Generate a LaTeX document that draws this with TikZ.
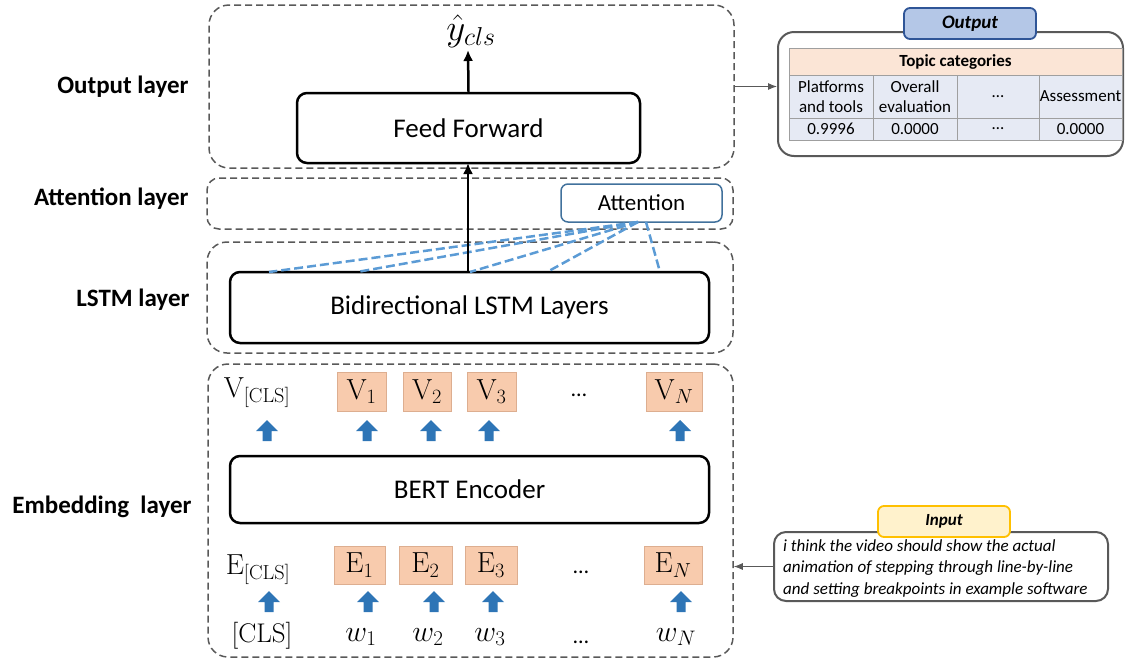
\RequirePackage{fix-cm}
\documentclass[tikz,border=0pt]{standalone}
\usepackage[no-math]{fontspec}
\setmainfont{Carlito}
\usetikzlibrary{arrows.meta}

\definecolor{peach}{HTML}{F8CBAD}
\definecolor{peachline}{HTML}{DDAE90}
\definecolor{blockblue}{HTML}{2E75B6}
\definecolor{dashblue}{HTML}{5B9BD5}
\definecolor{attline}{HTML}{41719C}
\definecolor{layergray}{HTML}{595959}
\definecolor{hdr}{HTML}{FBE5D6}
\definecolor{cellbg}{HTML}{E6EAF4}
\definecolor{tabblue}{HTML}{B4C7E7}
\definecolor{tabblueline}{HTML}{2F5597}
\definecolor{tabyellow}{HTML}{FFF2CC}
\definecolor{tabyellowline}{HTML}{FFC000}

\tikzset{
  sz/.style 2 args={minimum width=#1pt, minimum height=#2pt, inner sep=0pt},
  layer/.style={draw=layergray, line width=1.5pt, dash pattern=on 7pt off 4pt, rounded corners=20pt},
  layerlabel/.style={anchor=east, font=\fontsize{25}{30}\selectfont\bfseries},
  block/.style={draw=black, line width=2.5pt, rounded corners=10pt, fill=white, font=\fontsize{27}{32}\selectfont},
  attbox/.style={draw=attline, line width=1.5pt, rounded corners=7pt, fill=white, font=\fontsize{23}{28}\selectfont},
  vec/.style={fill=peach, draw=peachline, line width=0.6pt, font=\fontsize{29}{33}\selectfont},
  plain/.style={inner sep=0pt, font=\fontsize{29}{33}\selectfont},
  word/.style={inner sep=0pt, font=\fontsize{30}{34}\selectfont},
  dots/.style={inner sep=0pt, font=\fontsize{22}{26}\selectfont},
  flow/.style={line width=2.5pt, -{Latex[length=11pt, width=10pt]}},
  link/.style={draw=layergray, line width=1pt, -{Latex[length=9pt, width=7pt]}},
  attn/.style={draw=dashblue, line width=2.5pt, dash pattern=on 9pt off 4pt},
  panel/.style={draw=layergray, line width=2pt, rounded corners=16pt, fill=white},
  cell/.style={draw=gray!75, line width=0.8pt, fill=cellbg, align=center, font=\fontsize{17}{20.5}\selectfont},
  uparrow/.pic={\fill[blockblue] (-4.5,10) -- (-4.5,0) -- (-11,0) -- (0,-11) -- (11,0) -- (4.5,0) -- (4.5,10) -- cycle;}
}

\begin{document}
\begin{tikzpicture}[x=1pt, y=-1pt]
\useasboundingbox (0,0) rectangle (1126,662);

% layer frames
\node[layer, sz={525}{163}] (outL) at (471.5,86.5) {};
\node[layer, sz={526}{51}, rounded corners=12pt] (attL) at (470,203.5) {};
\node[layer, sz={526}{111}] (lstmL) at (470,297.5) {};
\node[layer, sz={525}{293}] (embL) at (470.5,510.5) {};

% layer names
\node[layerlabel] (nOut) at (192,87) {Output layer};
\node[layerlabel] (nAtt) at (192,199) {Attention layer};
\node[layerlabel] (nLstm) at (193,300) {LSTM layer};
\node[layerlabel] (nEmb) at (195,507) {Embedding\ \ layer};

% output layer
\node[block, sz={343}{70}] (ff) at (468.5,128) {Feed Forward};
\node[inner sep=1pt, font=\fontsize{37}{40}\selectfont] (yhat) at (471,31) {$\hat{y}_{cls}$};
\draw[flow] (ff.north) -- (468,50);

% attention and LSTM
\node[attbox, sz={161}{38}] (att) at (641.5,203) {Attention};
\node[block, sz={479}{71}] (lstm) at (469.5,307.5) {Bidirectional LSTM Layers};
\coordinate (hubA) at (638,222);
\coordinate (hubB) at (646,222);
\coordinate (l1) at (269,272);
\coordinate (l2) at (357,272);
\coordinate (l3) at (470,272);
\coordinate (l4) at (547,272);
\coordinate (l5) at (660,272);
\draw[attn] (hubA) -- (l1);
\draw[attn] (hubA) -- (l2);
\draw[attn] (hubA) -- (l3);
\draw[attn] (hubA) -- (l4);
\draw[attn] (hubB) -- (l5);
\draw[flow] (468,272) -- (468,163);

% embedding layer
\node[block, sz={479}{67}] (bert) at (469.5,489.5) {BERT Encoder};

\node[plain] (vcls) at (257,393) {$\mathrm{V}_{[\mathrm{CLS}]}$};
\node[vec, sz={49}{39}] (v1) at (361.5,391.5) {$\mathrm{V}_{1}$};
\node[vec, sz={48}{39}] (v2) at (427,391.5) {$\mathrm{V}_{2}$};
\node[vec, sz={49}{39}] (v3) at (491.5,391.5) {$\mathrm{V}_{3}$};
\node[dots] (vdots) at (579,395) {\ldots};
\node[vec, sz={56}{39}] (vn) at (674,391.5) {$\mathrm{V}_{N}$};

\pic at (267,431) {uparrow};
\pic at (367,431) {uparrow};
\pic at (431,431) {uparrow};
\pic at (489,431) {uparrow};
\pic at (680,431) {uparrow};

\node[plain] (ecls) at (258,570) {$\mathrm{E}_{[\mathrm{CLS}]}$};
\node[vec, sz={51}{38}] (e1) at (359.5,565) {$\mathrm{E}_{1}$};
\node[vec, sz={53}{38}] (e2) at (425.5,565) {$\mathrm{E}_{2}$};
\node[vec, sz={52}{38}] (e3) at (491,565) {$\mathrm{E}_{3}$};
\node[dots] (edots) at (581,572) {\ldots};
\node[vec, sz={58}{38}] (en) at (673,565) {$\mathrm{E}_{N}$};

\pic at (269,602) {uparrow};
\pic at (368,602) {uparrow};
\pic at (434,602) {uparrow};
\pic at (493,602) {uparrow};
\pic at (681,602) {uparrow};

\node[word, font=\fontsize{27}{31}\selectfont] (wcls) at (262,636) {$[\mathrm{CLS}]$};
\node[word] (w1) at (361,637) {$w_{1}$};
\node[word] (w2) at (428,637) {$w_{2}$};
\node[word] (w3) at (490,637) {$w_{3}$};
\node[dots] (wdots) at (581,642) {\ldots};
\node[word] (wn) at (676,637) {$w_{N}$};

% output panel
\node[panel, sz={345}{124}] (outbox) at (950.5,94) {};
\node[fill=hdr, draw=gray!75, line width=0.8pt, sz={333}{27}, font=\fontsize{17}{20}\selectfont\bfseries] (thead) at (955.5,61.5) {Topic categories};
\node[cell, sz={84}{43}] (c11) at (831,96.5) {Platforms\\and tools};
\node[cell, sz={84}{43}] (c12) at (915,96.5) {Overall\\evaluation};
\node[cell, sz={82}{43}] (c13) at (998,96.5) {\ldots};
\node[cell, sz={83}{43}] (c14) at (1080.5,96.5) {Assessment};
\node[cell, sz={84}{22}] (c21) at (831,129) {0.9996};
\node[cell, sz={84}{22}] (c22) at (915,129) {0.0000};
\node[cell, sz={82}{22}] (c23) at (998,129) {\ldots};
\node[cell, sz={83}{22}] (c24) at (1080.5,129) {0.0000};
\node[fill=tabblue, draw=tabblueline, line width=1.8pt, rounded corners=6pt, sz={132}{31}, font=\fontsize{19}{22}\selectfont\bfseries\itshape] (outtab) at (970,23.5) {Output};
\draw[link] (outL.east) -- (outL.east -| outbox.west);

% input panel
\node[panel, rounded corners=12pt, sz={334}{69}] (inbox) at (941,566.5) {};
\node[anchor=west, inner sep=0pt, align=left, font=\fontsize{17}{21.5}\selectfont\itshape] (intext) at (783,568.5) {i think the video should show the actual\\animation of stepping through line-by-line\\and setting breakpoints in example software};
\node[fill=tabyellow, draw=tabyellowline, line width=1.8pt, rounded corners=6pt, sz={132}{31}, font=\fontsize{17}{20}\selectfont\bfseries\itshape] (intab) at (944,521.5) {Input};
\draw[link] (inbox.west) -- (inbox.west -| embL.east);
\end{tikzpicture}
\end{document}
